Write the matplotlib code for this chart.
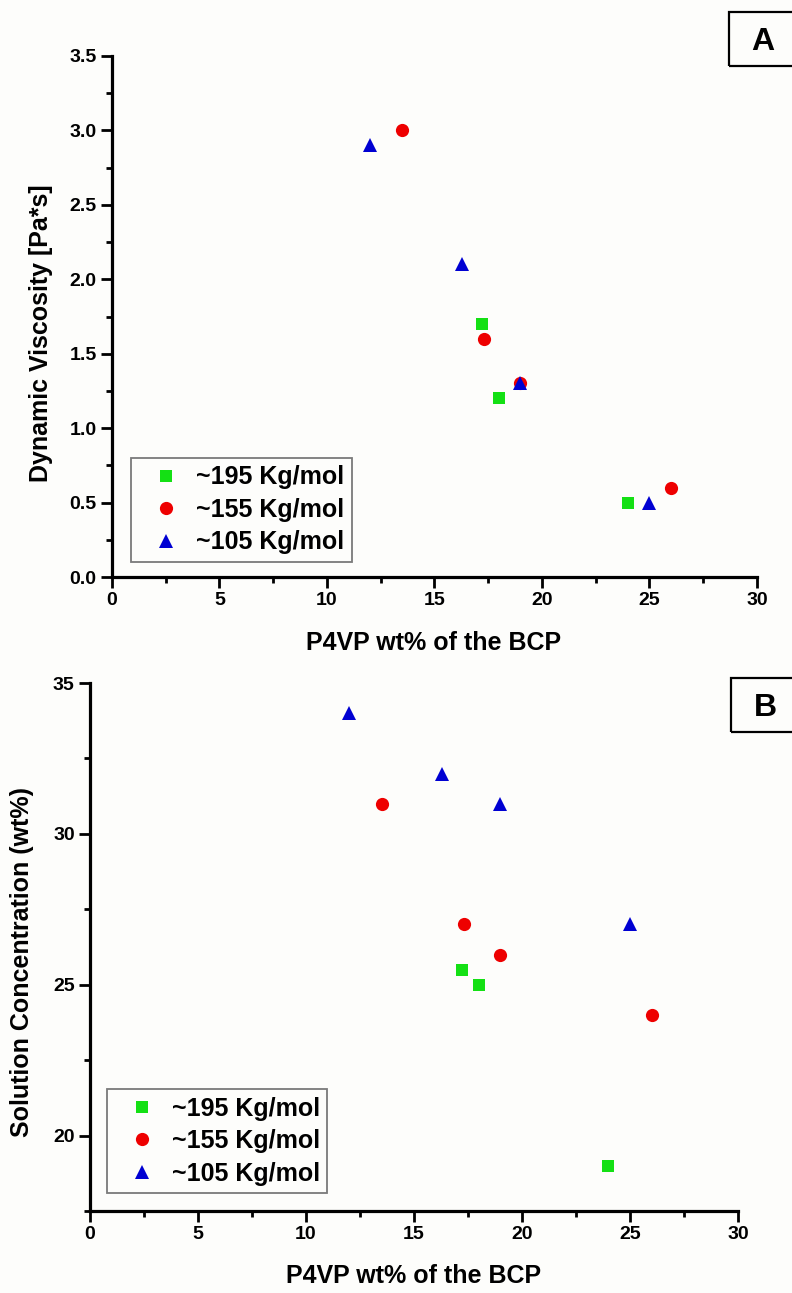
import matplotlib
matplotlib.use("Agg")
import matplotlib.pyplot as plt
from matplotlib.ticker import MultipleLocator
from matplotlib.patches import Rectangle

plt.rcParams['font.family'] = ['Liberation Sans', 'DejaVu Sans']
plt.rcParams['font.weight'] = 'bold'

# panel A: dynamic viscosity
visc_195_x = [17.2, 18.0, 24.0]
visc_195_y = [1.7, 1.2, 0.5]
visc_155_x = [13.5, 17.3, 19.0, 26.0]
visc_155_y = [3.0, 1.6, 1.3, 0.6]
visc_105_x = [12.0, 16.3, 19.0, 25.0]
visc_105_y = [2.9, 2.1, 1.3, 0.5]

# panel B: solution concentration
conc_195_x = [17.2, 18.0, 24.0]
conc_195_y = [25.5, 25.0, 19.0]
conc_155_x = [13.5, 17.3, 19.0, 26.0]
conc_155_y = [31.0, 27.0, 26.0, 24.0]
conc_105_x = [12.0, 16.3, 19.0, 25.0]
conc_105_y = [34.0, 32.0, 31.0, 27.0]

labels = ["~195 Kg/mol", "~155 Kg/mol", "~105 Kg/mol"]
colors = ["#14e014", "#ee0000", "#0000d2"]
markers = ["s", "o", "^"]
msizes = [8.5, 9.5, 10.5]

bg = "#fdfdfb"
fig = plt.figure(figsize=(7.92, 12.93), dpi=100)
fig.patch.set_facecolor(bg)

axA = fig.add_axes([0.14141, 0.55375, 0.81439, 0.40294])
axB = fig.add_axes([0.11364, 0.06342, 0.81818, 0.40835])


def style(ax, xmin, xmax, ymin, ymax, xmaj, xmin_step, ymaj, ymin_step):
    ax.set_facecolor(bg)
    ax.set_xlim(xmin, xmax)
    ax.set_ylim(ymin, ymax)
    ax.xaxis.set_major_locator(MultipleLocator(xmaj))
    ax.xaxis.set_minor_locator(MultipleLocator(xmin_step))
    ax.yaxis.set_major_locator(MultipleLocator(ymaj))
    ax.yaxis.set_minor_locator(MultipleLocator(ymin_step))
    for s in ["top", "right"]:
        ax.spines[s].set_visible(False)
    for s in ["left", "bottom"]:
        ax.spines[s].set_linewidth(2.3)
    ax.tick_params(which="major", direction="out", length=8, width=2.0,
                   labelsize=14, pad=3)
    ax.tick_params(which="minor", direction="out", length=4.5, width=2.0)
    for lab in ax.get_xticklabels() + ax.get_yticklabels():
        lab.set_fontweight("bold")


def scatter_all(ax, xs, ys):
    for x, y, lab, c, m, ms in zip(xs, ys, labels, colors, markers, msizes):
        ax.plot(x, y, linestyle="none", marker=m, color=c, markersize=ms,
                markeredgewidth=0, label=lab, clip_on=False)


scatter_all(axA, [visc_195_x, visc_155_x, visc_105_x],
            [visc_195_y, visc_155_y, visc_105_y])
style(axA, 0, 30, 0, 3.5, 5, 2.5, 0.5, 0.25)
axA.yaxis.set_major_formatter(matplotlib.ticker.FormatStrFormatter("%.1f"))

scatter_all(axB, [conc_195_x, conc_155_x, conc_105_x],
            [conc_195_y, conc_155_y, conc_105_y])
style(axB, 0, 30, 17.5, 35, 5, 2.5, 5, 2.5)

leg_kw = dict(loc="lower left", borderaxespad=0, fancybox=False,
              edgecolor="#7a7a7a", framealpha=1, facecolor=bg,
              prop={"size": 18, "weight": "bold"}, handlelength=2.2,
              handletextpad=0.1, borderpad=0.3, labelspacing=0.34)
legA = axA.legend(bbox_to_anchor=(0.0295, 0.029), **leg_kw)
legB = axB.legend(bbox_to_anchor=(0.026, 0.034), **leg_kw)
for leg in (legA, legB):
    leg.get_frame().set_linewidth(1.3)

fig.text(0.548, 0.5027, "P4VP wt% of the BCP", ha="center", va="center",
         fontsize=18, fontweight="bold")
fig.text(0.5227, 0.0131, "P4VP wt% of the BCP", ha="center", va="center",
         fontsize=18, fontweight="bold")
fig.text(0.0518, 0.7425, "Dynamic Viscosity [Pa*s]", ha="center",
         va="center", rotation=90, fontsize=18, fontweight="bold")
fig.text(0.0278, 0.256, "Solution Concentration (wt%)", ha="center",
         va="center", rotation=90, fontsize=18, fontweight="bold")

# panel letters in boxes running off the right edge
for x0, y0, tx, ty, letter in [(0.9205, 0.94896, 0.9634, 0.9675, "A"),
                               (0.923, 0.43387, 0.9659, 0.4524, "B")]:
    fig.patches.append(Rectangle((x0, y0), 0.2, 0.04176,
                                 transform=fig.transFigure, fill=False,
                                 edgecolor="black", linewidth=1.6))
    fig.text(tx, ty, letter, ha="center", va="center", fontsize=23,
             fontweight="bold")

fig.savefig("out.png", dpi=100, facecolor=bg)
